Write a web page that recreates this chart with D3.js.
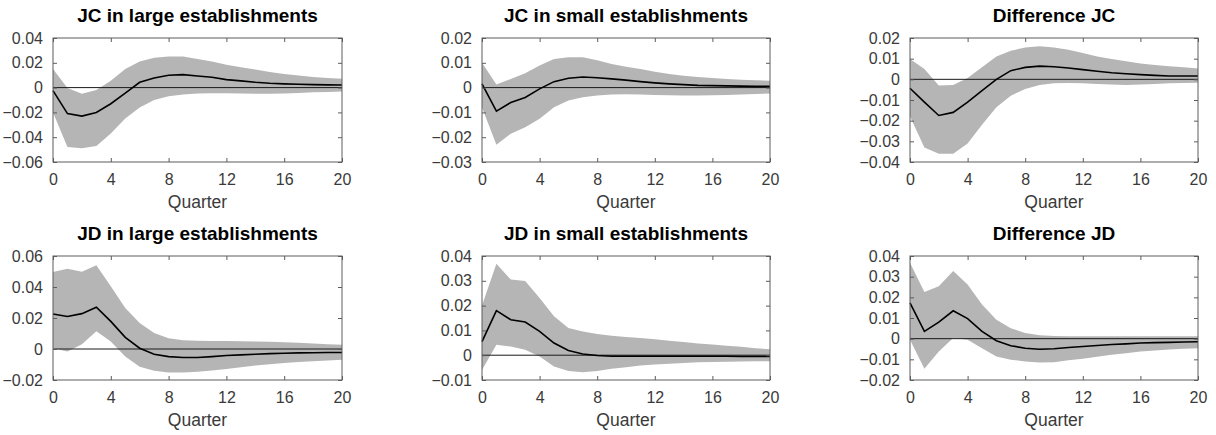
<!DOCTYPE html>
<html><head><meta charset="utf-8">
<script src="https://cdn.jsdelivr.net/npm/d3@7"></script>
<style>body{margin:0;background:#fff}svg{display:block}</style>
</head><body>
<svg id="c" width="1216" height="435"></svg>
<script>
const quarters = d3.range(0, 21);
const titles = ["JC in large establishments","JC in small establishments","Difference JC",
                "JD in large establishments","JD in small establishments","Difference JD"];
const xTicks = [0,4,8,12,16,20];
const yTicks1 = [-0.06,-0.04,-0.02,0,0.02,0.04];
const yTicks2 = [-0.03,-0.02,-0.01,0,0.01,0.02];
const yTicks3 = [-0.04,-0.03,-0.02,-0.01,0,0.01,0.02];
const yTicks4 = [-0.02,0,0.02,0.04,0.06];
const yTicks5 = [-0.01,0,0.01,0.02,0.03,0.04];
const yTicks6 = [-0.02,-0.01,0,0.01,0.02,0.03,0.04];

const irf1 = [-0.0024,-0.021,-0.023,-0.020,-0.013,-0.0045,0.0043,0.0078,0.010,0.0105,0.0094,0.0083,0.0064,0.0054,0.0043,0.0035,0.0030,0.0027,0.0024,0.0022,0.0021];
const up1  = [0.015,-0.0003,-0.005,-0.002,0.0056,0.015,0.021,0.024,0.025,0.025,0.023,0.021,0.0185,0.0164,0.0145,0.0126,0.011,0.0097,0.0086,0.0078,0.0072];
const lo1  = [-0.020,-0.048,-0.049,-0.047,-0.037,-0.025,-0.016,-0.010,-0.007,-0.0056,-0.0048,-0.0046,-0.0046,-0.0048,-0.005,-0.005,-0.0048,-0.0043,-0.0038,-0.0035,-0.0032];

const irf2 = [0.0015,-0.0095,-0.006,-0.004,-0.0005,0.0024,0.0038,0.0043,0.0040,0.0035,0.0030,0.0024,0.0019,0.0015,0.0012,0.0009,0.0008,0.0007,0.0006,0.0005,0.0005];
const up2  = [0.010,0.0012,0.0035,0.0058,0.0089,0.0115,0.0122,0.0122,0.011,0.0095,0.0084,0.0075,0.0064,0.0055,0.0048,0.0043,0.0039,0.0035,0.0032,0.0030,0.0028];
const lo2  = [-0.008,-0.023,-0.0186,-0.016,-0.0126,-0.0079,-0.0052,-0.0039,-0.0032,-0.0028,-0.0027,-0.0028,-0.003,-0.0031,-0.0032,-0.0032,-0.0031,-0.003,-0.0028,-0.0026,-0.0024];

const irf3 = [-0.0043,-0.011,-0.0175,-0.016,-0.011,-0.0055,0.0,0.0042,0.0058,0.0064,0.0061,0.0055,0.0047,0.0039,0.0032,0.0027,0.0023,0.0019,0.0016,0.0016,0.0016];
const up3  = [0.0098,0.005,-0.003,-0.0027,0.0006,0.0058,0.011,0.0138,0.0154,0.016,0.0154,0.0143,0.0127,0.0111,0.0098,0.0087,0.0077,0.0069,0.0063,0.0058,0.0053];
const lo3  = [-0.018,-0.033,-0.036,-0.036,-0.031,-0.022,-0.0135,-0.0079,-0.0047,-0.0027,-0.0019,-0.0018,-0.0019,-0.0023,-0.0025,-0.0027,-0.0025,-0.0023,-0.0019,-0.0018,-0.0016];

const irf4 = [0.0226,0.021,0.0228,0.027,0.0178,0.0075,0.0005,-0.0034,-0.0049,-0.0055,-0.0055,-0.0049,-0.0042,-0.0038,-0.0034,-0.003,-0.0027,-0.0025,-0.0024,-0.0023,-0.0023];
const up4  = [0.0496,0.0518,0.0498,0.054,0.0405,0.0265,0.0168,0.0103,0.007,0.0057,0.0053,0.0052,0.0051,0.005,0.0049,0.0047,0.0044,0.004,0.0036,0.0031,0.0027];
const lo4  = [0.0005,-0.0016,0.0031,0.0114,0.0049,-0.0049,-0.0114,-0.014,-0.0152,-0.0152,-0.0146,-0.0138,-0.0129,-0.0118,-0.0107,-0.0098,-0.009,-0.0084,-0.0079,-0.0074,-0.007];

const irf5 = [0.0055,0.018,0.0143,0.0134,0.0096,0.0049,0.0019,0.0005,-0.0001,-0.0004,-0.0004,-0.0004,-0.0004,-0.0004,-0.0004,-0.0004,-0.0004,-0.0004,-0.0005,-0.0005,-0.0005];
const up5  = [0.020,0.0369,0.0305,0.0299,0.0231,0.0157,0.011,0.0096,0.0085,0.0078,0.0073,0.0069,0.0064,0.0058,0.0053,0.0047,0.0043,0.0038,0.0034,0.0028,0.0024];
const lo5  = [-0.006,0.0042,0.0035,0.0022,-0.0005,-0.0046,-0.0064,-0.0069,-0.0064,-0.0055,-0.0049,-0.0042,-0.0038,-0.0034,-0.0031,-0.0028,-0.0027,-0.0026,-0.0025,-0.0024,-0.0024];

const irf6 = [0.0173,0.0035,0.008,0.0135,0.0097,0.0035,-0.001,-0.0034,-0.0046,-0.0051,-0.0049,-0.0043,-0.0038,-0.0033,-0.0028,-0.0025,-0.0021,-0.0019,-0.0018,-0.0016,-0.0015];
const up6  = [0.0367,0.0226,0.0254,0.0327,0.0262,0.0165,0.0092,0.0051,0.0027,0.0016,0.0013,0.0012,0.0012,0.0012,0.0012,0.0012,0.0012,0.0012,0.0012,0.0012,0.0012];
const lo6  = [-0.0005,-0.0146,-0.0062,0.0003,-0.0005,-0.0046,-0.0086,-0.0102,-0.011,-0.0115,-0.0114,-0.0105,-0.0097,-0.0088,-0.0078,-0.007,-0.0062,-0.0057,-0.0052,-0.0049,-0.0046];

const panels = [
  {title:titles[0], ticks:yTicks1, irf:irf1, up:up1, lo:lo1},
  {title:titles[1], ticks:yTicks2, irf:irf2, up:up2, lo:lo2},
  {title:titles[2], ticks:yTicks3, irf:irf3, up:up3, lo:lo3},
  {title:titles[3], ticks:yTicks4, irf:irf4, up:up4, lo:lo4},
  {title:titles[4], ticks:yTicks5, irf:irf5, up:up5, lo:lo5},
  {title:titles[5], ticks:yTicks6, irf:irf6, up:up6, lo:lo6}
];

const colX = [[53,342],[482,770],[910,1198]];
const rowY = [[38,162],[256,380]];
const font = "'Liberation Sans', Arial, sans-serif";
const axisCol = "#5c5c5c";
const svg = d3.select("#c");

panels.forEach((p, i) => {
  const [x0, x1] = colX[i % 3];
  const [y0, y1] = rowY[Math.floor(i / 3)];
  const dom = d3.extent(p.ticks);
  const x = d3.scaleLinear().domain([0, 20]).range([x0, x1]);
  const y = d3.scaleLinear().domain(dom).range([y1, y0]);
  const g = svg.append("g");
  const fmt = v => v === 0 ? "0" : d3.format(".2f")(v);

  g.append("path")
    .datum(quarters)
    .attr("d", d3.area().x(q => x(q)).y0(q => y(p.lo[q])).y1(q => y(p.up[q])))
    .attr("fill", "#b5b5b5");
  g.append("line").attr("x1", x(0)).attr("x2", x(20)).attr("y1", y(0)).attr("y2", y(0))
    .attr("stroke", "#1a1a1a").attr("stroke-width", 1);
  g.append("path").datum(quarters)
    .attr("d", d3.line().x(q => x(q)).y(q => y(p.irf[q])))
    .attr("fill", "none").attr("stroke", "#000").attr("stroke-width", 1.6);

  const styleAxis = sel => {
    sel.select(".domain").remove();
    sel.selectAll(".tick line").attr("stroke", axisCol);
    sel.selectAll(".tick text").attr("fill", "#3a3a3a").style("font-family", font).style("font-size", "16px");
  };
  g.append("g").attr("transform", `translate(0,${y1})`)
    .call(d3.axisBottom(x).tickValues(xTicks).tickSizeInner(-4).tickSizeOuter(0).tickPadding(12).tickFormat(d3.format("d")))
    .call(styleAxis);
  g.append("g").attr("transform", `translate(0,${y0})`)
    .call(d3.axisTop(x).tickValues(xTicks).tickSizeInner(-4).tickSizeOuter(0).tickFormat(""))
    .call(styleAxis);
  g.append("g").attr("transform", `translate(${x0},0)`)
    .call(d3.axisLeft(y).tickValues(p.ticks).tickSizeInner(-4).tickSizeOuter(0).tickPadding(10).tickFormat(fmt))
    .call(styleAxis);
  g.append("g").attr("transform", `translate(${x1},0)`)
    .call(d3.axisRight(y).tickValues(p.ticks).tickSizeInner(-4).tickSizeOuter(0).tickFormat(""))
    .call(styleAxis);
  g.append("rect").attr("x", x0).attr("y", y0).attr("width", x1 - x0).attr("height", y1 - y0)
    .attr("fill", "none").attr("stroke", axisCol).attr("stroke-width", 1);

  g.append("text").attr("x", (x0 + x1) / 2).attr("y", y0 - 16)
    .attr("text-anchor", "middle").style("font-family", font).style("font-size", "19px")
    .style("font-weight", "bold").attr("fill", "#000").text(p.title);
  g.append("text").attr("x", (x0 + x1) / 2).attr("y", y1 + 46)
    .attr("text-anchor", "middle").style("font-family", font).style("font-size", "17.5px")
    .attr("fill", "#3a3a3a").text("Quarter");
});
</script>
</body></html>
